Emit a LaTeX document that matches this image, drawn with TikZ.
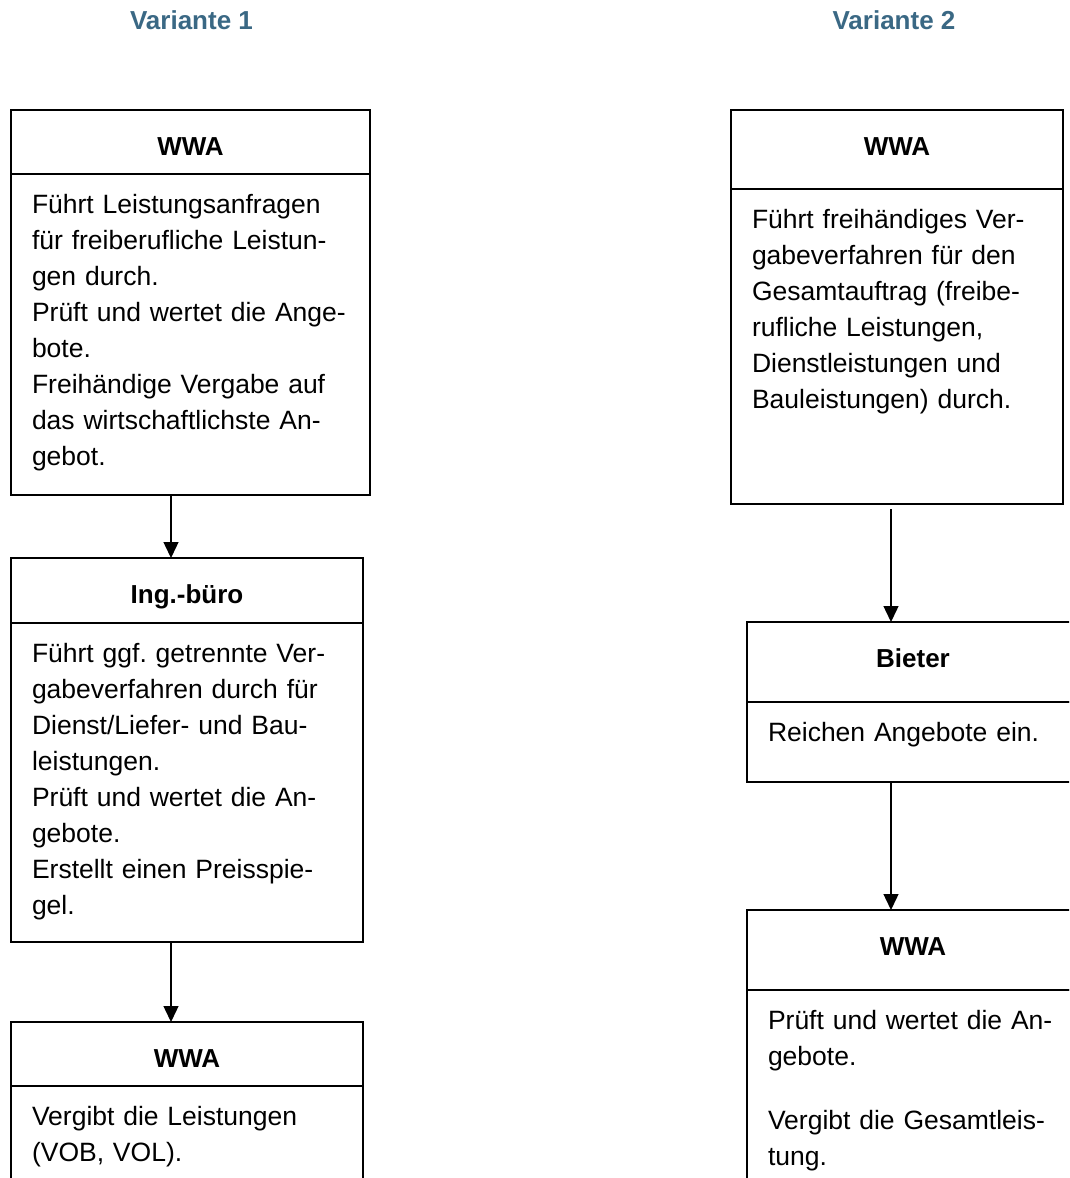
\documentclass[tikz,border=0pt]{standalone}
\usepackage{fontspec}
\setmainfont{Liberation Sans}
\usepackage{xcolor}
\usetikzlibrary{arrows.meta, positioning}
\definecolor{titleblue}{RGB}{58,104,132}
\frenchspacing

\begin{document}
\begin{tikzpicture}[x=1pt, y=-1pt]
\tikzstyle{title} = [font=\bfseries\fontsize{26}{30}\selectfont, text=titleblue, anchor=base]
\tikzstyle{head} = [rectangle, draw=black, line width=1.5pt, outer sep=0pt, inner sep=0pt, text height=45pt, font=\bfseries\fontsize{26}{30}\selectfont]
\tikzstyle{body} = [rectangle, draw=black, line width=1.5pt, outer sep=0pt, inner xsep=21pt, inner ysep=14pt, text height=25pt, align=left, font=\fontsize{26.5}{36}\selectfont]
\tikzstyle{arrow} = [line width=1.4pt, -{Triangle[length=16pt, width=15pt]}]

\useasboundingbox (0,0) rectangle (1069,1178);
\clip (0,0) rectangle (1069,1178);

% column titles
\node (var1) [title] at (191.5,29) {Variante 1};
\node (var2) [title] at (894,29) {Variante 2};

% Variante 1
\node (wwa1head) [head, minimum width=359pt, text depth=19pt, anchor=north west] at (11,110) {WWA};
\node (wwa1body) [body, text width=317pt, text depth=268pt, below=0pt of wwa1head] {Führt Leistungsanfragen\\ für freiberufliche Leistun-\\ gen durch.\\ Prüft und wertet die Ange-\\ bote.\\ Freihändige Vergabe auf\\ das wirtschaftlichste An-\\ gebot.};

\node (inghead) [head, minimum width=352pt, text depth=20pt, below=63pt of wwa1body.south west, anchor=north west] {Ing.-büro};
\node (ingbody) [body, text width=310pt, text depth=266pt, below=0pt of inghead] {Führt ggf. getrennte Ver-\\ gabeverfahren durch für\\ Dienst/Liefer- und Bau-\\ leistungen.\\ Prüft und wertet die An-\\ gebote.\\ Erstellt einen Preisspie-\\ gel.};

\node (wwa3head) [head, minimum width=352pt, text depth=19pt, below=80pt of ingbody.south west, anchor=north west] {WWA};
\node (wwa3body) [body, text width=310pt, text depth=150pt, below=0pt of wwa3head] {Vergibt die Leistungen\\ (VOB, VOL).};

% Variante 2
\node (wwa2head) [head, minimum width=332pt, text depth=34pt, anchor=north west] at (731,110) {WWA};
\node (wwa2body) [body, text width=290pt, text depth=262pt, below=0pt of wwa2head] {Führt freihändiges Ver-\\ gabeverfahren für den\\ Gesamtauftrag (freibe-\\ rufliche Leistungen,\\ Dienstleistungen und\\ Bauleistungen) durch.};

\node (biethead) [head, minimum width=332pt, text depth=35pt, below=118pt of wwa2body.south west, xshift=16pt, anchor=north west] {Bieter};
\node (bietbody) [body, text width=290pt, text depth=27pt, below=0pt of biethead] {Reichen Angebote ein.};

\node (wwa4head) [head, minimum width=332pt, text depth=35pt, below=128pt of bietbody.south west, anchor=north west] {WWA};
\node (wwa4body) [body, text width=290pt, text depth=150pt, below=0pt of wwa4head] {Prüft und wertet die An-\\ gebote.\\[28pt] Vergibt die Gesamtleis-\\ tung.};

% connectors
\coordinate (leftline) at (171,0);
\coordinate (rightline) at (891,0);
\draw [arrow] (wwa1body.south -| leftline) -- (inghead.north -| leftline);
\draw [arrow] (ingbody.south -| leftline) -- (wwa3head.north -| leftline);
\draw [arrow, shorten <=5pt] (wwa2body.south -| rightline) -- (biethead.north -| rightline);
\draw [arrow] (bietbody.south -| rightline) -- (wwa4head.north -| rightline);

\end{tikzpicture}
\end{document}
